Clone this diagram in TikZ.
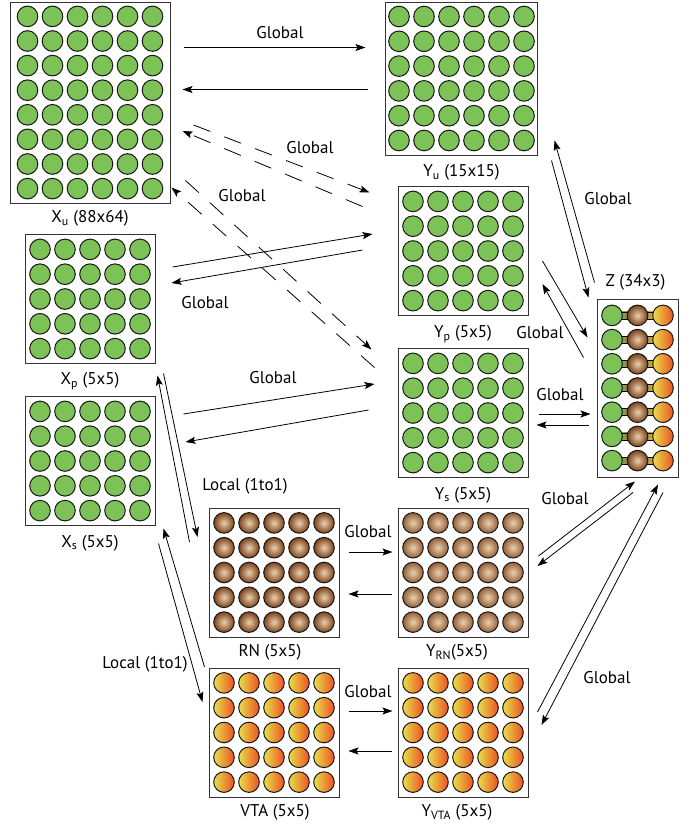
\documentclass[tikz,border=0pt]{standalone}
\usepackage{fontspec}
\setmainfont{PT Sans}
\usetikzlibrary{arrows.meta,calc}

\definecolor{leafgreen}{RGB}{124,194,86}
\definecolor{rndark}{RGB}{122,66,28}
\definecolor{rnlight}{RGB}{236,208,172}
\definecolor{vtayellow}{RGB}{230,224,76}
\definecolor{vtared}{RGB}{238,80,34}

\begin{document}
\begin{tikzpicture}[x=1pt,y=-1pt,font=\fontsize{17}{20}\selectfont,
  box/.style={draw=black!80,line width=1pt,fill=white,inner sep=0pt,
    minimum width=130pt,minimum height=129pt},
  greenball/.style={draw=black!90,line width=1pt,fill=leafgreen},
  rnball/.style={draw=black!90,line width=1pt,inner color=rnlight,outer color=rndark},
  yrnball/.style={draw=black!90,line width=1pt,inner color=rnlight,outer color=rndark!80!rnlight},
  vtaball/.style={draw=black!90,line width=1pt,left color=vtayellow,right color=vtared},
  arr/.style={line width=0.8pt,-{Stealth[length=10pt,width=7pt,inset=2pt]}},
  dasharr/.style={arr,dash pattern=on 18pt off 15pt}]

\useasboundingbox (0,0) rectangle (694,825);

% boxes
\node[box,minimum width=160pt,minimum height=201pt] (Xu) at (90,102.5) {};
\node[box,minimum width=152pt,minimum height=153pt] (Yu) at (461.5,78.5) {};
\node[box] (Xp) at (90,299) {};
\node[box] (Xs) at (90,461) {};
\node[box] (Yp) at (463,251) {};
\node[box] (Ys) at (463,413) {};
\node[box] (RN) at (274,572.5) {};
\node[box] (YRN) at (463,572.5) {};
\node[box] (VTA) at (274,732.5) {};
\node[box] (YVTA) at (463,732.5) {};
\node[box,minimum width=81pt,minimum height=178pt] (Z) at (637.5,388) {};

% node, columns, rows, row pitch, style
\def\ballgrid#1#2#3#4#5{%
  \foreach \i in {1,...,#2} {
    \foreach \j in {1,...,#3} {
      \draw[#5] ($(#1.center)+({(\i-(#2+1)/2)*25},{(\j-(#3+1)/2)*#4})$) circle [radius=10.3pt];
    }
  }
}

\ballgrid{Xu}{6}{8}{24.6}{greenball}
\ballgrid{Yu}{6}{6}{24.8}{greenball}
\ballgrid{Xp}{5}{5}{24.8}{greenball}
\ballgrid{Xs}{5}{5}{24.8}{greenball}
\ballgrid{Yp}{5}{5}{24.8}{greenball}
\ballgrid{Ys}{5}{5}{24.8}{greenball}
\ballgrid{RN}{5}{5}{24.8}{rnball}
\ballgrid{YRN}{5}{5}{24.8}{yrnball}
\ballgrid{VTA}{5}{5}{24.8}{vtaball}
\ballgrid{YVTA}{5}{5}{24.8}{vtaball}

% Z: green - RN - VTA chains
\foreach \j in {1,...,7} {
  \pgfmathsetmacro{\zy}{(\j-4)*24.2}
  \draw[line width=0.8pt,left color=leafgreen,right color=rndark!80]
    ($(Z.center)+(-25.5,\zy-3.5)$) rectangle ($(Z.center)+(0,\zy+3.5)$);
  \draw[line width=0.8pt,left color=rndark!80,right color=vtayellow]
    ($(Z.center)+(0,\zy-3.5)$) rectangle ($(Z.center)+(25.5,\zy+3.5)$);
  \draw[greenball] ($(Z.center)+(-25.5,\zy)$) circle [radius=10.3pt];
  \draw[rnball] ($(Z.center)+(0,\zy)$) circle [radius=10.3pt];
  \draw[vtaball] ($(Z.center)+(25.5,\zy)$) circle [radius=10.3pt];
}

% box labels
\node (XuL) at ($(Xu.south)+(0,15)$) {X\textsubscript{u} (88x64)};
\node (YuL) at ($(Yu.south)+(0,17)$) {Y\textsubscript{u} (15x15)};
\node (XpL) at ($(Xp.south)+(0,17)$) {X\textsubscript{p} (5x5)};
\node (XsL) at ($(Xs.south)+(0,17)$) {X\textsubscript{s} (5x5)};
\node (YpL) at ($(Yp.south)+(0,18)$) {Y\textsubscript{p} (5x5)};
\node (YsL) at ($(Ys.south)+(0,17)$) {Y\textsubscript{s} (5x5)};
\node (RNL) at ($(RN.south)+(-4,15)$) {RN (5x5)};
\node (YRNL) at ($(YRN.south)+(-6,15)$) {Y\textsubscript{RN}(5x5)};
\node (VTAL) at ($(VTA.south)+(1,15)$) {VTA (5x5)};
\node (YVTAL) at ($(YVTA.south)+(-6,15)$) {Y\textsubscript{VTA} (5x5)};
\node (ZL) at ($(Z.north)+(-2,-16)$) {Z (34x3)};

% Xu <-> Yu
\draw[arr] ($(Xu.north east)+(13,46)$) -- ($(Yu.north west)+(-19.5,46)$);
\draw[arr] ($(Yu.north west)+(-17.5,88)$) -- ($(Xu.north east)+(12,88)$);
\node (lXuYu) at (280,33) {Global};

% Xu <-> Yp, Xu <-> Ys (dashed)
\draw[dasharr] ($(Xu.east)+(23,22.5)$) -- ($(Yp.north west)+(-28,6.5)$);
\draw[dasharr] ($(Yp.north west)+(-35,20.5)$) -- ($(Xu.east)+(12,28.5)$);
\node (lXuYp) at (310,148) {Global};
\draw[dasharr] ($(Xu.south east)+(15,-23)$) -- ($(Ys.north west)+(-26,1.5)$);
\draw[dasharr] ($(Ys.north west)+(-23,19.5)$) -- ($(Xu.south east)+(1,-16)$);
\node (lXuYs) at (242,196) {Global};

% Xp <-> Yp
\draw[arr] ($(Xp.east)+(17,-32)$) -- ($(Yp.west)+(-25,-17)$);
\draw[arr] ($(Yp.west)+(-35,-1)$) -- ($(Xp.east)+(16,-16)$);
\node (lXpYp) at (205,303) {Global};

% Xs <-> Ys
\draw[arr] ($(Xs.east)+(28,-47)$) -- ($(Ys.west)+(-23,-29)$);
\draw[arr] ($(Ys.west)+(-29,-3)$) -- ($(Xs.east)+(30,-19)$);
\node (lXsYs) at (273,378) {Global};

% Y boxes <-> Z
\draw[arr] ($(Ys.east)+(10,1)$) -- ($(Z.west)+(-6,26)$);
\draw[arr] ($(Z.west)+(-8,37)$) -- ($(Ys.east)+(8,12)$);
\node (lYsZ) at (560,395) {Global};
\draw[arr] ($(Yu.south east)+(13.5,5)$) -- ($(Z.north west)+(-8,-1)$);
\draw[arr] ($(Z.north west)+(-2,-16)$) -- ($(Yu.south east)+(16.5,-15)$);
\node (lYuZ) at (608,199) {Global};
\draw[arr] ($(Yp.east)+(14,10)$) -- ($(Z.north west)+(-9,39)$);
\draw[arr] ($(Z.north west)+(-13,59)$) -- ($(Yp.east)+(14,33)$);
\node (lYpZ) at (540,333) {Global};
\draw[arr] ($(YRN.east)+(10,-16.5)$) -- ($(Z.south)+(-2.5,4)$);
\draw[arr] ($(Z.south)+(-4.5,15)$) -- ($(YRN.east)+(9,-6.5)$);
\node (lYRNZ) at (565,499) {Global};
\draw[arr] ($(YVTA.east)+(9,-20.5)$) -- ($(Z.south)+(20.5,7)$);
\draw[arr] ($(Z.south)+(25.5,15)$) -- ($(YVTA.east)+(13,-7.5)$);
\node (lYVTAZ) at (607,678) {Global};

% local links
\draw[arr] ($(Xp.south east)+(8,9.5)$) -- ($(RN.west)+(-11,-35.5)$);
\draw[arr] ($(RN.west)+(-19,-30.5)$) -- ($(Xp.south east)+(2,11.5)$);
\node (lXpRN) at (245,486) {Local (1to1)};
\draw[arr] ($(VTA.west)+(-4,-65.5)$) -- ($(Xs.south east)+(8,2.5)$);
\draw[arr] ($(Xs.south east)+(3,17.5)$) -- ($(VTA.west)+(-6,-30.5)$);
\node (lXsVTA) at (145,664) {Local (1to1)};

% RN <-> YRN, VTA <-> YVTA
\draw[arr] ($(RN.east)+(9,-20.5)$) -- ($(YRN.west)+(-5,-20.5)$);
\draw[arr] ($(YRN.west)+(-6,21.5)$) -- ($(RN.east)+(9,21.5)$);
\node (lRNYRN) at (368,532) {Global};
\draw[arr] ($(VTA.east)+(9,-21.5)$) -- ($(YVTA.west)+(-5,-21.5)$);
\draw[arr] ($(YVTA.west)+(-6,18.5)$) -- ($(VTA.east)+(9,18.5)$);
\node (lVTAYVTA) at (368,692) {Global};

\end{tikzpicture}
\end{document}
